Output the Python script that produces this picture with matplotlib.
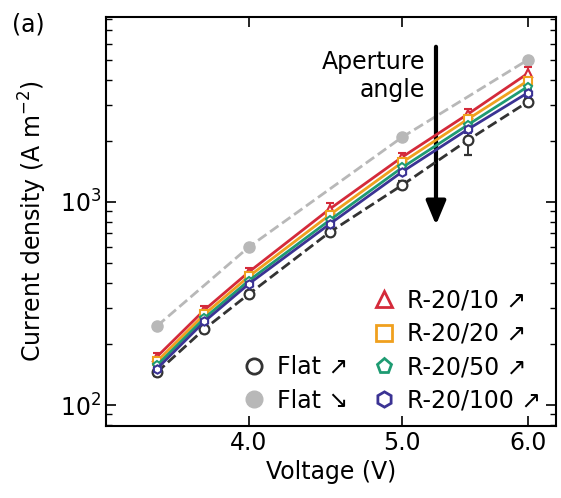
import numpy as np
import matplotlib.pyplot as plt
from matplotlib.lines import Line2D

# Data
voltage = [3.5, 3.75, 4.0, 4.5, 5.0, 5.5, 6.0]
flat_up = [145, 237, 352, 711, 1213, 2018, 3111]
flat_up_err = [6, 10, 14, 35, 60, 315, 150]
voltage_down = [3.5, 4.0, 5.0, 6.0]
flat_down = [245, 600, 2089, 5012]

r10 = [173, 294, 452, 925, 1667, 2710, 4300]
r10_err = [8, 12, 20, 65, 80, 170, 300]
r20 = [164, 280, 430, 865, 1570, 2560, 3950]
r20_err = [6, 10, 15, 40, 60, 110, 200]
r50 = [157, 268, 410, 815, 1480, 2400, 3700]
r50_err = [6, 9, 14, 35, 55, 100, 180]
r100 = [151, 258, 395, 780, 1410, 2280, 3450]
r100_err = [5, 8, 12, 30, 50, 90, 150]

series = [
    ('R-20/10 \u2197', r10, r10_err, '#d42a3a', '^'),
    ('R-20/20 \u2197', r20, r20_err, '#f0a01e', 's'),
    ('R-20/50 \u2197', r50, r50_err, '#1e9b72', 'p'),
    ('R-20/100 \u2197', r100, r100_err, '#3b3394', 'h'),
]

fig = plt.figure(figsize=(5.61, 4.98), dpi=100)
ax = fig.add_axes([0.189, 0.145, 0.802, 0.821])

fs = 17

# flat, decreasing sweep
ax.plot(voltage_down, flat_down, ls='--', color='#b8b8b8', lw=2,
        marker='o', ms=8, mfc='#b8b8b8', mec='#b8b8b8', zorder=2)

# flat, increasing sweep
ax.errorbar(voltage, flat_up, yerr=flat_up_err, ls='--', color='#333333', lw=2,
            marker='o', ms=7, mfc='white', mec='#333333', mew=1.6,
            capsize=3, elinewidth=1.4, zorder=3)

for label, vals, err, c, m in series:
    ax.errorbar(voltage, vals, yerr=err, ls='-', color=c, lw=2,
                marker=m, ms=6, mfc='white', mec=c, mew=1.5,
                capsize=3, elinewidth=1.4, zorder=4)

ax.set_xscale('log')
ax.set_yscale('log')
ax.set_xlim(3.25, 6.25)
ax.set_ylim(79, 8150)
ax.set_xticks([4, 5, 6])
ax.set_xticklabels(['4.0', '5.0', '6.0'])
ax.xaxis.set_minor_locator(plt.NullLocator())

ax.tick_params(which='both', direction='in', top=True, right=True, labelsize=fs)
ax.tick_params(which='major', length=7, width=1.2)
ax.tick_params(which='minor', length=4, width=1.0)
for s in ax.spines.values():
    s.set_linewidth(1.5)

ax.set_xlabel('Voltage (V)', fontsize=fs)
ax.set_ylabel('Current density (A m$^{-2}$)', fontsize=fs, labelpad=8)

# aperture angle arrow
ax.annotate('', xy=(5.25, 770), xytext=(5.25, 5810),
            arrowprops=dict(arrowstyle='-|>,head_length=0.72,head_width=0.3',
                            lw=3, color='k', mutation_scale=20,
                            shrinkA=0, shrinkB=0))
ax.text(5.17, 5570, 'Aperture\nangle', ha='right', va='top', fontsize=fs,
        multialignment='right', linespacing=1.2)

# legends (marker-only handles)
h_flat = [
    Line2D([], [], ls='none', marker='o', ms=11, mfc='white', mec='#333333', mew=2, label='Flat \u2197'),
    Line2D([], [], ls='none', marker='o', ms=12, mfc='#b8b8b8', mec='#b8b8b8', label='Flat \u2198'),
]
h_r = [Line2D([], [], ls='none', marker=m, ms=11, mfc='white', mec=c, mew=2, label=l)
       for l, v, e, c, m in series]

leg1 = ax.legend(handles=h_r, loc='lower right', bbox_to_anchor=(1.015, -0.02),
                 frameon=False, fontsize=fs, handlelength=1.0, handletextpad=0.5,
                 labelspacing=0.4)
ax.add_artist(leg1)
ax.legend(handles=h_flat, loc='lower right', bbox_to_anchor=(0.586, -0.02),
          frameon=False, fontsize=fs, handlelength=1.0, handletextpad=0.5,
          labelspacing=0.4)

fig.text(0.022, 0.975, '(a)', fontsize=fs, va='top')

fig.savefig('out.png', dpi=100)
